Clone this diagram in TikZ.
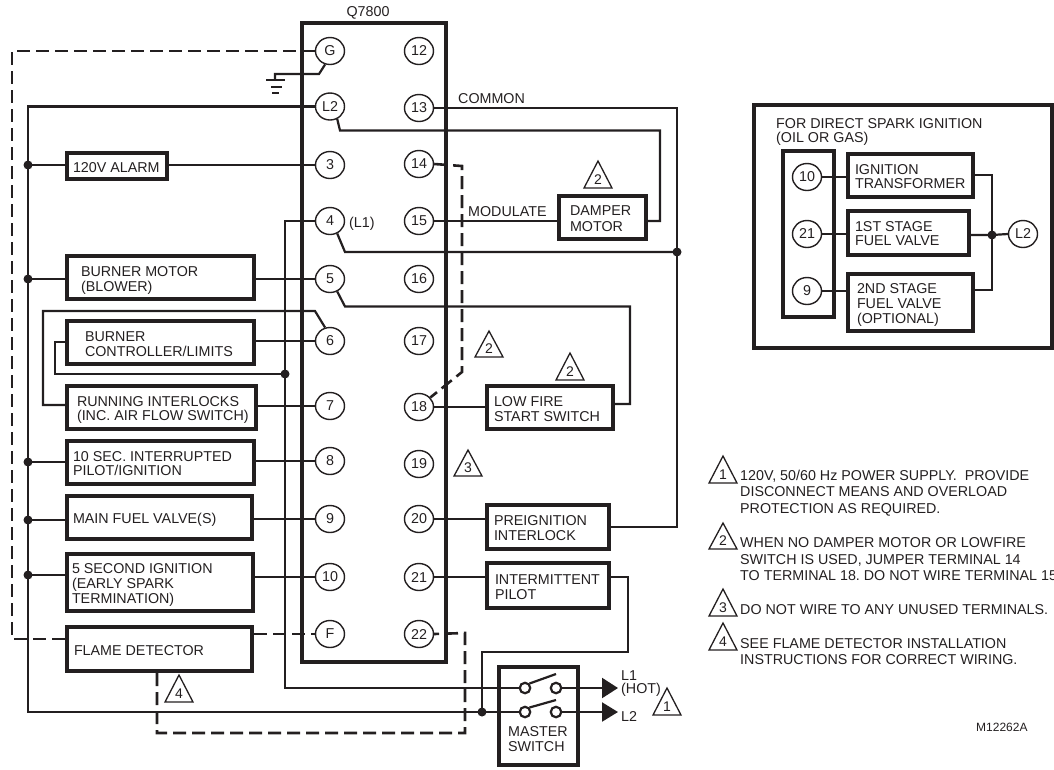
\documentclass[tikz,border=0pt]{standalone}
\usepackage{fontspec}
\setmainfont{Liberation Sans}
\frenchspacing
\usetikzlibrary{shapes.geometric,arrows.meta}
\definecolor{ink}{HTML}{231F20}
\tikzset{
  wire/.style={draw=ink,line width=2.2pt},
  jump/.style={draw=ink,line width=2.6pt,dash pattern=on 13pt off 6pt},
  term/.style={ellipse,draw=ink,line width=1.4pt,minimum width=29pt,minimum height=27pt,inner sep=0pt,text=ink,font=\fontsize{14.3}{15}\selectfont},
  wirebox/.style={rectangle,draw=ink,line width=4pt,inner sep=0pt,text=ink},
  dot/.style={circle,fill=ink,draw=none,minimum size=9pt,inner sep=0pt},
  contact/.style={circle,draw=ink,line width=2.2pt,minimum size=10.5pt,inner sep=0pt},
  lbl/.style={inner sep=0pt,text=ink,font=\fontsize{14.3}{15}\selectfont},
  note/.style={lbl,anchor=west,align=left,font=\fontsize{14.3}{16.5}\selectfont},
  tri/.style={draw=ink,line width=1.3pt,line join=miter},
  trinum/.style={inner sep=0pt,text=ink,font=\fontsize{14}{14}\selectfont}
}
% #1 leading, #2 name, #3 x1, #4 y1, #5 x2, #6 y2 (outer edges), #7 text inset, #8 text
\newcommand{\wbx}[8][15]{%
  \pgfmathsetmacro\bw{#5-#3-4}%
  \pgfmathsetmacro\bh{#6-#4-4}%
  \pgfmathsetmacro\bcx{(#3+#5)/2}%
  \pgfmathsetmacro\bcy{(#4+#6)/2}%
  \pgfmathsetmacro\bin{#7-2}%
  \node[wirebox,minimum width=\bw pt,minimum height=\bh pt] (#2) at (\bcx,\bcy)
    {\fontsize{14.3}{#1}\selectfont\makebox[\bw pt][l]{\hspace*{\bin pt}\raisebox{-6.6pt}[0pt][0pt]{\begin{tabular}{@{}l@{}}#8\end{tabular}}}};%
}
% #1 name, #2 centre x, #3 apex y, #4 base y, #5 number
\newcommand{\trimark}[5]{%
  \pgfmathsetmacro\tl{#2-14}\pgfmathsetmacro\tr{#2+14}\pgfmathsetmacro\tn{#4-8.5}%
  \draw[tri] (#2,#3) -- (\tr,#4) -- (\tl,#4) -- cycle;
  \node[trinum] (#1) at (#2,\tn) {#5};%
}
\begin{document}
\begin{tikzpicture}[x=1pt,y=-1pt]
\useasboundingbox (0,0) rectangle (1054,769);
% Module
\draw[draw=ink,line width=4pt] (302,23) rectangle (446,662);
\node[lbl] (q) at (368,12.5) {Q7800};
% Terminals
\foreach \n/\t/\y in {tG/G/51,tL/L2/106.5,t3/3/165,t4/4/221,t5/5/279,t6/6/341,t7/7/406,t8/8/461,t9/9/519,t10/10/577,tF/F/634}
  \node[term] (\n) at (330,\y) {\t};
\foreach \n/\t/\y in {t12/12/51,t13/13/108,t14/14/164,t15/15/221,t16/16/279,t17/17/341,t18/18/407,t19/19/464,t20/20/519,t21/21/577,t22/22/634}
  \node[term] (\n) at (419,\y) {\t};
% Left boxes
\wbx{alarm}{65}{151}{169}{181}{8}{120V ALARM}
\wbx{blower}{65}{254}{256}{301}{16}{BURNER MOTOR\\(BLOWER)}
\wbx{ctrl}{65}{319}{256}{366}{20}{BURNER\\CONTROLLER/LIMITS}
\wbx[14]{inter}{65}{384}{258}{431}{12}{RUNNING INTERLOCKS\\(INC. AIR FLOW SWITCH)}
\wbx[14]{pilot}{65}{439}{256}{486}{8}{10 SEC. INTERRUPTED\\PILOT/IGNITION}
\wbx{fuel}{65}{494}{254}{541}{8}{MAIN FUEL VALVE(S)}
\wbx[14.5]{spark}{65}{552}{255}{613}{7}{5 SECOND IGNITION\\(EARLY SPARK\\TERMINATION)}
\wbx{flame}{65}{625}{254}{673}{9}{FLAME DETECTOR}
% Right boxes
\wbx[16]{damper}{557}{194}{648}{241}{13}{DAMPER\\MOTOR}
\wbx{low}{485}{384}{615}{431}{9}{LOW FIRE\\START SWITCH}
\wbx{pre}{485}{503}{611}{551}{9}{PREIGNITION\\INTERLOCK}
\wbx{inter2}{485}{561}{611}{610}{10}{INTERMITTENT\\PILOT}
\wbx{master}{497}{665}{580}{767}{11}{}
\node[lbl,anchor=west,align=left] (masterlbl) at (508,739.5) {MASTER\\SWITCH};
% Bus dots
\node[dot] (d3) at (28,165) {};
\node[dot] (d5) at (28,279) {};
\node[dot] (d8) at (28,462) {};
\node[dot] (d9) at (28,520) {};
\node[dot] (d10) at (28,575) {};
\node[dot] (dl) at (285,374) {};
\node[dot] (dc) at (677,252) {};
\node[dot] (dm) at (482,712) {};
% Switch
\node[contact] (c1) at (525,688) {};
\node[contact] (c2) at (556,688) {};
\node[contact] (c3) at (525,712) {};
\node[contact] (c4) at (556,712) {};
\coordinate (a1) at (618,688);
\coordinate (a2) at (618,712);
\draw[wire] (c1.north east) -- (556,674);
\draw[wire] (c3.north east) -- (556,700);
\draw[wire,-{Triangle[length=16pt,width=20pt]}] (c2.east) -- (a1);
\draw[wire,-{Triangle[length=16pt,width=19pt]}] (c4.east) -- (a2);
\node[lbl,anchor=west] (l1) at (621,675.5) {L1};
\node[lbl,anchor=west] (hot) at (621,689.5) {(HOT)};
\node[lbl,anchor=west] (l2) at (621,716) {L2};
% Left wires
\draw[wire] (tL.west) -- (28,106.5) -- (28,712) -- (dm.center) -- (c3.west);
\draw[wire] (t4.west) -- (285,221) -- (285,688) -- (c1.west);
\draw[wire] (d3.center) -- (alarm.west |- d3);
\draw[wire] (alarm.east |- t3) -- (t3.west);
\draw[wire] (d5.center) -- (blower.west |- d5);
\draw[wire] (blower.east |- t5) -- (t5.west);
\draw[wire] (ctrl.east |- t6) -- (t6.west);
\draw[wire] (ctrl.west |- 55,342) -- (55,342) -- (55,374) -- (dl.center);
\draw[wire] (t6.110) -- (315,311) -- (43,311) -- (43,405) -- (inter.west |- 43,405);
\draw[wire] (inter.east |- t7) -- (t7.west);
\draw[wire] (d8.center) -- (pilot.west |- d8);
\draw[wire] (pilot.east |- t8) -- (t8.west);
\draw[wire] (d9.center) -- (fuel.west |- d9);
\draw[wire] (fuel.east |- t9) -- (t9.west);
\draw[wire] (d10.center) -- (spark.west |- d10);
\draw[wire] (spark.east |- t10) -- (t10.west);
% Ground
\draw[wire] (tG.250) -- (319,74) -- (275,74) -- (275,80);
\draw[wire] (266,80) -- (285,80);
\draw[wire] (271,87) -- (282,87);
\draw[wire] (272,93) -- (279,93);
% Right wires
\draw[wire] (tL.300) -- (340,130.5) -- (660,130.5) -- (660,221) -- (damper.east |- 660,221);
\draw[wire] (t13.east) -- (677,108) -- (dc.center) -- (677,527) -- (pre.east |- 677,527);
\draw[wire] (t4.300) -- (345,252) -- (dc.center);
\draw[wire] (t5.300) -- (345,306.5) -- (630,306.5) -- (630,404) -- (low.east |- 630,404);
\draw[wire] (t15.east) -- (damper.west |- t15);
\draw[wire] (t18.east) -- (low.west |- t18);
\draw[wire] (t20.east) -- (pre.west |- t20);
\draw[wire] (t21.east) -- (inter2.west |- t21);
\draw[wire] (inter2.east |- t21) -- (628,577) -- (628,652) -- (482,652) -- (dm.center);
% Dashed wires
\draw[jump] (tG.west) -- (12,51) -- (12,639) -- (flame.west |- 12,639);
\draw[jump] (flame.east |- tF) -- (tF.west);
\draw[jump] (flame.south -| 157,673) -- (157,733) -- (465,733) -- (465,633) -- (t22.east);
\draw[jump] (t14.east) -- (462,166) -- (462,372) -- (t18.40);
% Labels
\node[lbl,anchor=west] (common) at (458,99) {COMMON};
\node[lbl,anchor=west] (modulate) at (468,212) {MODULATE};
\node[lbl,anchor=west] (lone) at (349,223.5) {(L1)};
% Triangles
\trimark{m1}{598}{161}{188}{2}
\trimark{m2}{489}{331}{357}{2}
\trimark{m3}{570}{353}{380}{2}
\trimark{m4}{468}{450}{476}{3}
\trimark{m5}{667}{688}{715}{1}
\trimark{m6}{179}{675}{702}{4}
% Inset panel
\draw[draw=ink,line width=4pt] (754,105) rectangle (1052,348);
\node[lbl,anchor=west,align=left,font=\fontsize{14.3}{14}\selectfont] (title) at (776,132) {FOR DIRECT SPARK IGNITION\\(OIL OR GAS)};
\draw[draw=ink,line width=4pt] (783,151) rectangle (834,317);
\node[term] (i10) at (807,177) {10};
\node[term] (i21) at (807,234) {21};
\node[term] (i9) at (807,291) {9};
\node[term] (iL) at (1023,234) {L2};
\wbx[14.5]{ign}{846}{152}{975}{199}{9}{IGNITION\\TRANSFORMER}
\wbx[14]{first}{846}{209}{971}{257}{9}{1ST STAGE\\FUEL VALVE}
\wbx[14.5]{second}{846}{272}{975}{333}{11}{2ND STAGE\\FUEL VALVE\\(OPTIONAL)}
\node[dot] (ij) at (992,235) {};
\draw[wire] (i10.east) -- (ign.west |- i10);
\draw[wire] (i21.east) -- (first.west |- i21);
\draw[wire] (i9.east) -- (second.west |- i9);
\draw[wire] (ign.east |- 992,175) -- (992,175) -- (992,290) -- (second.east |- 992,290);
\draw[wire] (first.east |- ij) -- (ij.center) -- (iL.west);
% Notes
\trimark{n1}{723}{456}{483}{1}
\trimark{n2}{723}{523}{549}{2}
\trimark{n3}{723}{589}{616}{3}
\trimark{n4}{723}{623}{650}{4}
\node[note] (note1) at (740,493) {120V, 50/60 Hz POWER SUPPLY.\ \ PROVIDE\\DISCONNECT MEANS AND OVERLOAD\\PROTECTION AS REQUIRED.};
\node[note] (note2) at (740,559.5) {WHEN NO DAMPER MOTOR OR LOWFIRE\\SWITCH IS USED, JUMPER TERMINAL 14\\TO TERMINAL 18. DO NOT WIRE TERMINAL 15.};
\node[note] (note3) at (740,610) {DO NOT WIRE TO ANY UNUSED TERMINALS.};
\node[note] (note4) at (740,651.5) {SEE FLAME DETECTOR INSTALLATION\\INSTRUCTIONS FOR CORRECT WIRING.};
\node[lbl,anchor=west,font=\fontsize{12}{13}\selectfont] (code) at (976,727) {M12262A};
\end{tikzpicture}
\end{document}
